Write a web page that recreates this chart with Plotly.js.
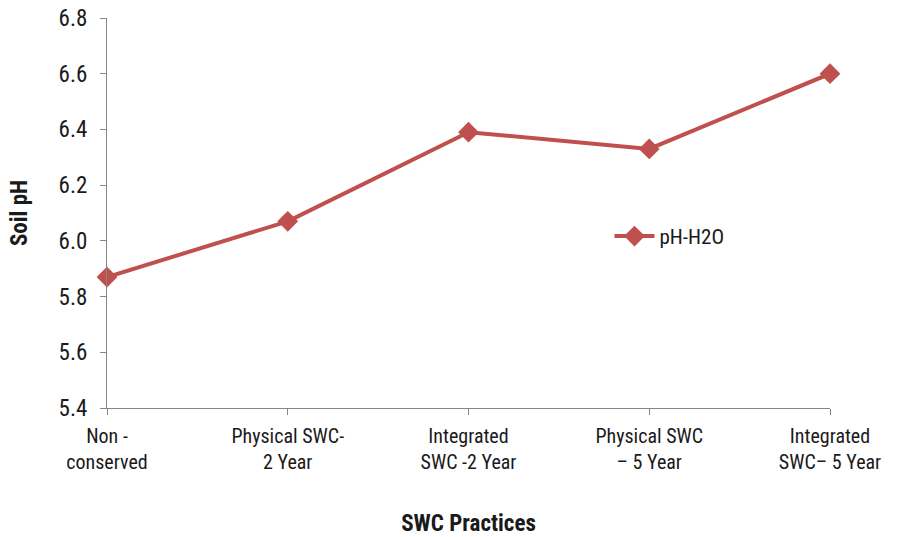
<!DOCTYPE html>
<html><head><meta charset="utf-8">
<script src="https://cdn.plot.ly/plotly-3.0.1.min.js"></script>
<style>body{margin:0;background:#fff}#chart{width:898px;height:537px}</style>
</head><body><div id="chart"></div>
<script>
const categories = ["Non -<br>conserved", "Physical SWC-<br>2 Year", "Integrated<br>SWC -2 Year", "Physical SWC<br>– 5 Year", "Integrated<br>SWC– 5 Year"];
const phH2O = [5.87, 6.07, 6.39, 6.33, 6.60];
const yTicks = [5.4, 5.6, 5.8, 6.0, 6.2, 6.4, 6.6, 6.8];
const yTickText = ["5.4", "5.6", "5.8", "6.0", "6.2", "6.4", "6.6", "6.8"];

const font = "'Liberation Sans Narrow', 'Roboto Condensed', 'DejaVu Sans Condensed', sans-serif";
const trace = {
  x: categories, y: phH2O, type: 'scatter', mode: 'lines+markers', name: 'pH-H2O',
  line: {color: '#C0504D', width: 4},
  marker: {symbol: 'diamond', size: 16, color: '#C0504D'},
  cliponaxis: false
};
const layout = {
  width: 898, height: 537,
  margin: {l: 107, r: 68, t: 18, b: 129},
  paper_bgcolor: '#fff', plot_bgcolor: '#fff',
  font: {family: font, color: '#1a1a1a', size: 20},
  showlegend: true,
  legend: {x: 0.695, y: 0.44, xanchor: 'left', yanchor: 'middle', font: {size: 21, family: font}, bgcolor: 'rgba(0,0,0,0)', itemwidth: 40},
  xaxis: {
    type: 'category', range: [0, 4], showgrid: false, zeroline: false,
    showline: true, linecolor: '#868686', linewidth: 1,
    ticks: 'outside', ticklen: 6, tickcolor: '#868686',
    tickfont: {size: 20, family: font}, tickangle: 0, ticklabelstandoff: 4,
    title: {text: '<b>SWC Practices</b>', font: {size: 23, family: font}, standoff: 44}
  },
  yaxis: {
    range: [5.4, 6.8], tickvals: yTicks, ticktext: yTickText, showgrid: false, zeroline: false,
    showline: true, linecolor: '#868686', linewidth: 1,
    ticks: 'outside', ticklen: 6, tickcolor: '#868686',
    tickfont: {size: 23, family: font}, ticklabelstandoff: 8,
    title: {text: '<b>Soil pH</b>', font: {size: 23, family: font}, standoff: 24}
  }
};
Plotly.newPlot('chart', [trace], layout, {displayModeBar: false, staticPlot: true});
</script></body></html>
